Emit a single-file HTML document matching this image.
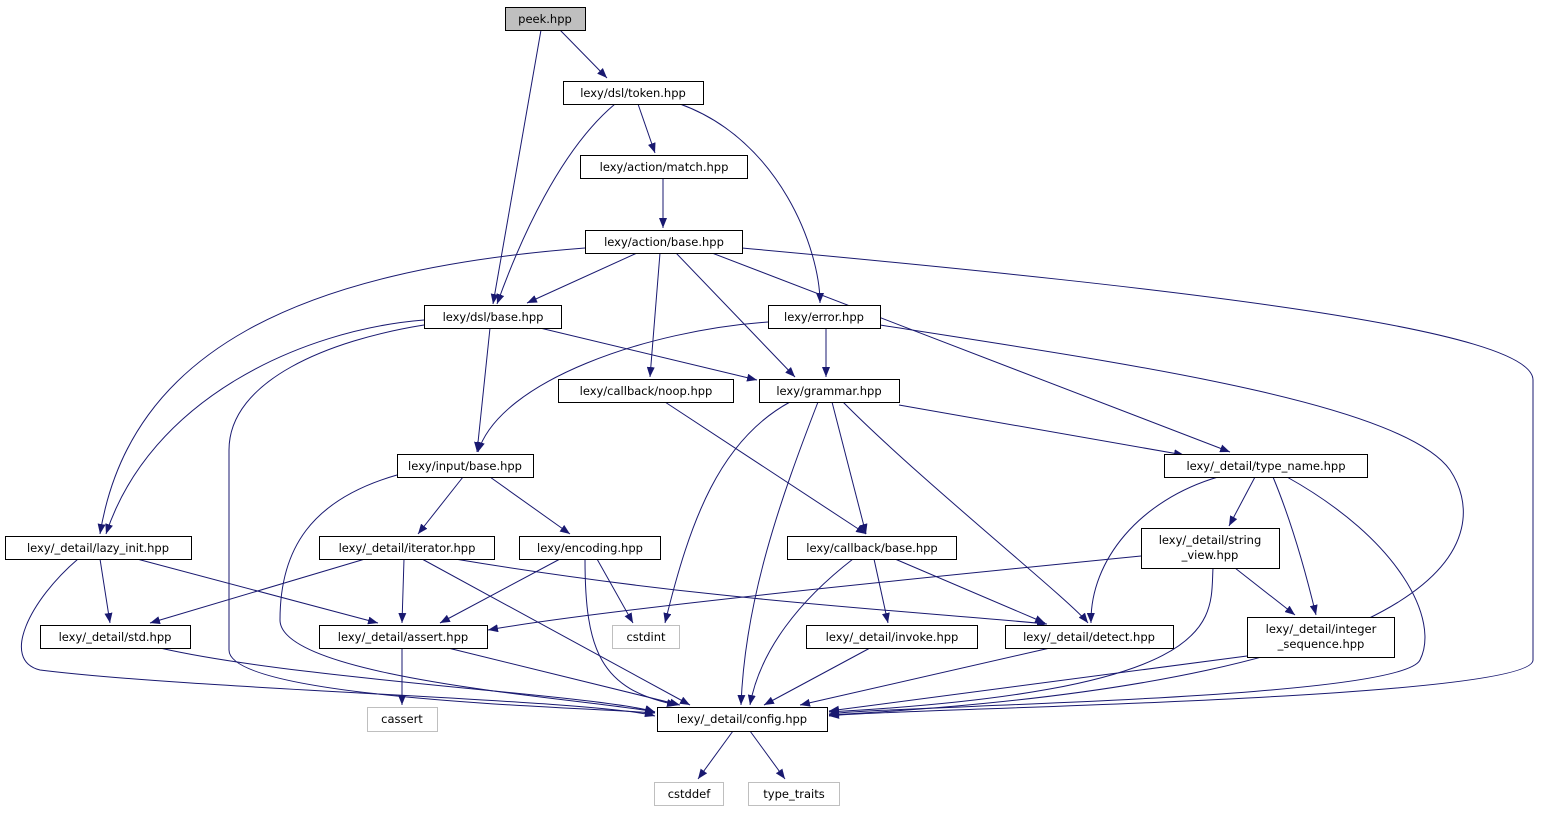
<!DOCTYPE html>
<html><head><meta charset="utf-8"><style>
html,body{margin:0;padding:0;background:#fff;}
svg{display:block;}
text{font-family:"DejaVu Sans","Liberation Sans",sans-serif;font-size:11.5px;fill:#000;}
.n{fill:#fff;stroke:#000;stroke-width:1;}
.g{fill:#fff;stroke:#bfbfbf;stroke-width:1;}
.e{fill:none;stroke:#191970;stroke-width:1;marker-end:url(#a);}
</style></head><body>
<svg width="1541" height="813" viewBox="0 0 1541 813" xmlns="http://www.w3.org/2000/svg">
<defs><marker id="a" markerUnits="userSpaceOnUse" markerWidth="10" markerHeight="8" refX="10" refY="4" orient="auto"><path d="M0,0 L10,4 L0,8 z" fill="#191970"/></marker></defs>
<g>
<path class="e" d="M541,30 L493,304"/>
<path class="e" d="M560,30 L607,78"/>
<path class="e" d="M615,104 C560,150 520,240 497,304"/>
<path class="e" d="M638,104 L655,153"/>
<path class="e" d="M680,104 C780,140 820,250 820,303"/>
<path class="e" d="M663,178 L663,228"/>
<path class="e" d="M637,253 L527,303"/>
<path class="e" d="M585,248 C300,270 130,350 100,534"/>
<path class="e" d="M660,253 L650,377"/>
<path class="e" d="M676,253 L795,377"/>
<path class="e" d="M712,253 L1230,452"/>
<path class="e" d="M742,248 C1200,290 1533,330 1533,380 L1533,660 C1533,700 900,708 829,716"/>
<path class="e" d="M424,320 C300,330 150,400 106,534"/>
<path class="e" d="M424,325 C330,340 229,380 229,450 L229,650 C229,700 600,708 655,713"/>
<path class="e" d="M490,328 L477,452"/>
<path class="e" d="M540,328 L757,380"/>
<path class="e" d="M768,322 C650,330 500,380 478,452"/>
<path class="e" d="M826,328 L826,377"/>
<path class="e" d="M880,325 C1100,360 1400,400 1450,470 C1490,530 1480,680 829,715"/>
<path class="e" d="M665,402 L866,534"/>
<path class="e" d="M899,405 L1184,455"/>
<path class="e" d="M790,402 C720,440 690,520 665,623"/>
<path class="e" d="M818,402 C780,500 745,600 741,705"/>
<path class="e" d="M832,402 L866,534"/>
<path class="e" d="M843,402 C920,480 1070,600 1088,623"/>
<path class="e" d="M397,475 C310,500 280,550 280,620 C280,680 600,700 655,712"/>
<path class="e" d="M463,477 L418,534"/>
<path class="e" d="M490,477 L570,534"/>
<path class="e" d="M1218,477 C1140,500 1090,560 1091,623"/>
<path class="e" d="M1255,477 L1229,526"/>
<path class="e" d="M1273,477 C1295,530 1310,590 1316,615"/>
<path class="e" d="M1287,477 C1400,540 1440,620 1420,660 C1400,700 900,705 829,714"/>
<path class="e" d="M100,559 L110,623"/>
<path class="e" d="M137,559 L378,623"/>
<path class="e" d="M78,559 C30,600 0,660 40,670 C200,690 600,700 655,716"/>
<path class="e" d="M365,559 L150,623"/>
<path class="e" d="M404,559 L402,623"/>
<path class="e" d="M422,559 L690,705"/>
<path class="e" d="M455,559 C700,600 900,610 1047,624"/>
<path class="e" d="M560,559 L440,623"/>
<path class="e" d="M597,559 L633,623"/>
<path class="e" d="M585,559 C585,650 600,690 677,705"/>
<path class="e" d="M853,559 C800,600 760,650 750,705"/>
<path class="e" d="M874,559 L888,623"/>
<path class="e" d="M895,559 L1045,623"/>
<path class="e" d="M1141,556 C900,580 600,610 488,630"/>
<path class="e" d="M1235,568 L1295,615"/>
<path class="e" d="M1213,568 C1210,620 1230,690 829,712"/>
<path class="e" d="M160,648 C300,680 600,695 655,712"/>
<path class="e" d="M402,648 L402,705"/>
<path class="e" d="M448,648 L680,705"/>
<path class="e" d="M870,648 L764,705"/>
<path class="e" d="M1050,648 L800,705"/>
<path class="e" d="M1247,656 L829,711"/>
<path class="e" d="M733,731 L698,779"/>
<path class="e" d="M750,731 L785,779"/>
</g>
<g>
<rect x="505.5" y="7.5" width="80" height="23" fill="#bfbfbf" stroke="#000"/><text x="545" y="23" text-anchor="middle">peek.hpp</text>
<rect class="n" x="563.5" y="81.5" width="140" height="23"/><text x="633" y="97" text-anchor="middle">lexy/dsl/token.hpp</text>
<rect class="n" x="580.5" y="155.5" width="167" height="23"/><text x="664" y="171" text-anchor="middle">lexy/action/match.hpp</text>
<rect class="n" x="585.5" y="230.5" width="157" height="23"/><text x="664" y="246" text-anchor="middle">lexy/action/base.hpp</text>
<rect class="n" x="424.5" y="305.5" width="137" height="23"/><text x="493" y="321" text-anchor="middle">lexy/dsl/base.hpp</text>
<rect class="n" x="768.5" y="305.5" width="112" height="23"/><text x="824" y="321" text-anchor="middle">lexy/error.hpp</text>
<rect class="n" x="558.5" y="379.5" width="175" height="23"/><text x="646" y="395" text-anchor="middle">lexy/callback/noop.hpp</text>
<rect class="n" x="759.5" y="379.5" width="140" height="23"/><text x="829" y="395" text-anchor="middle">lexy/grammar.hpp</text>
<rect class="n" x="397.5" y="454.5" width="136" height="23"/><text x="465" y="470" text-anchor="middle">lexy/input/base.hpp</text>
<rect class="n" x="1164.5" y="454.5" width="203" height="23"/><text x="1266" y="470" text-anchor="middle">lexy/_detail/type_name.hpp</text>
<rect class="n" x="5.5" y="536.5" width="186" height="23"/><text x="98" y="552" text-anchor="middle">lexy/_detail/lazy_init.hpp</text>
<rect class="n" x="319.5" y="536.5" width="175" height="23"/><text x="407" y="552" text-anchor="middle">lexy/_detail/iterator.hpp</text>
<rect class="n" x="519.5" y="536.5" width="141" height="23"/><text x="590" y="552" text-anchor="middle">lexy/encoding.hpp</text>
<rect class="n" x="787.5" y="536.5" width="169" height="23"/><text x="872" y="552" text-anchor="middle">lexy/callback/base.hpp</text>
<rect class="n" x="1141.5" y="528.5" width="138" height="40"/><text x="1210" y="544" text-anchor="middle">lexy/_detail/string</text><text x="1210" y="559" text-anchor="middle">_view.hpp</text>
<rect class="n" x="40.5" y="625.5" width="150" height="23"/><text x="115" y="641" text-anchor="middle">lexy/_detail/std.hpp</text>
<rect class="n" x="319.5" y="625.5" width="168" height="23"/><text x="403" y="641" text-anchor="middle">lexy/_detail/assert.hpp</text>
<rect class="g" x="612.5" y="625.5" width="67" height="23"/><text x="646" y="641" text-anchor="middle">cstdint</text>
<rect class="n" x="806.5" y="625.5" width="171" height="23"/><text x="892" y="641" text-anchor="middle">lexy/_detail/invoke.hpp</text>
<rect class="n" x="1005.5" y="625.5" width="168" height="23"/><text x="1089" y="641" text-anchor="middle">lexy/_detail/detect.hpp</text>
<rect class="n" x="1247.5" y="617.5" width="147" height="40"/><text x="1321" y="633" text-anchor="middle">lexy/_detail/integer</text><text x="1321" y="648" text-anchor="middle">_sequence.hpp</text>
<rect class="g" x="367.5" y="707.5" width="70" height="24"/><text x="402" y="723" text-anchor="middle">cassert</text>
<rect class="n" x="657.5" y="707.5" width="170" height="24"/><text x="742" y="723" text-anchor="middle">lexy/_detail/config.hpp</text>
<rect class="g" x="654.5" y="782.5" width="69" height="23"/><text x="689" y="798" text-anchor="middle">cstddef</text>
<rect class="g" x="748.5" y="782.5" width="91" height="23"/><text x="794" y="798" text-anchor="middle">type_traits</text>
</g>
</svg>
</body></html>
